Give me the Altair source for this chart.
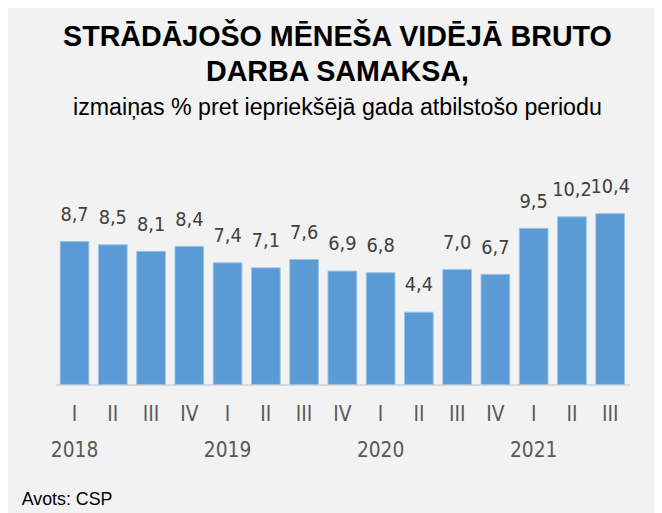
import altair as alt
import pandas as pd

years = ["2018", "2018", "2018", "2018", "2019", "2019", "2019", "2019",
         "2020", "2020", "2020", "2020", "2021", "2021", "2021"]
quarters = ["I", "II", "III", "IV", "I", "II", "III", "IV",
            "I", "II", "III", "IV", "I", "II", "III"]
values = [8.7, 8.5, 8.1, 8.4, 7.4, 7.1, 7.6, 6.9, 6.8, 4.4, 7.0, 6.7, 9.5, 10.2, 10.4]

df = pd.DataFrame({
    "key": [f"{y} {q}" for y, q in zip(years, quarters)],
    "year": years,
    "quarter": quarters,
    "value": values,
})
order = list(df["key"])

NARROW = "Liberation Sans Narrow, Arial Narrow, Noto Sans Condensed, DejaVu Sans Condensed, Roboto Condensed, Roboto, sans-serif"
ARIAL = "Liberation Sans, Arial, sans-serif"

x_enc = alt.X(
    "key:N",
    sort=order,
    scale=alt.Scale(paddingInner=0.25, paddingOuter=0.125),
    axis=alt.Axis(
        title=None,
        labelAngle=0,
        labelExpr="split(datum.label, ' ')[1] == 'I' ? [split(datum.label, ' ')[1], split(datum.label, ' ')[0]] : [split(datum.label, ' ')[1], '']",
        labelFont=NARROW,
        labelFontSize=21,
        labelColor="#595959",
        labelLineHeight=37,
        labelPadding=19,
        labelBaseline="top",
        ticks=False,
        domainColor="#d9d9d9",
        domainWidth=2,
        grid=False,
    ),
)
y_enc = alt.Y("value:Q", scale=alt.Scale(domain=[0, 11], nice=False), axis=None)

base = alt.Chart(df)

bars = base.mark_bar(color="#5b9bd5", stroke="#9dc3e6", strokeWidth=1).encode(x=x_enc, y=y_enc)

labels = base.transform_calculate(
    lbl="replace(format(datum.value, '.1f'), '.', ',')"
).mark_text(
    font=NARROW, fontSize=20, color="#404040", baseline="alphabetic", dy=-21
).encode(x=x_enc, y=y_enc, text="lbl:N")

source = alt.Chart(pd.DataFrame({"t": ["Avots: CSP"]})).mark_text(
    font=ARIAL, fontSize=18, color="#000000", align="left", baseline="alphabetic"
).encode(x=alt.value(-34), y=alt.value(305), text="t:N")

chart = alt.layer(bars, labels, source).properties(
    width=581,
    height=183,
    autosize=alt.AutoSizeParams(type="none"),
    padding={"left": 48, "right": 25, "top": 195, "bottom": 127},
    background="#f2f2f2",
    title=alt.TitleParams(
        text=["STRĀDĀJOŠO MĒNEŠA VIDĒJĀ BRUTO", "DARBA SAMAKSA,"],
        subtitle="izmaiņas % pret iepriekšējā gada atbilstošo periodu",
        font=ARIAL,
        fontSize=29,
        fontWeight="bold",
        color="#000000",
        lineHeight=35,
        subtitleFont=ARIAL,
        subtitleFontSize=23.5,
        subtitleColor="#000000",
        subtitlePadding=10,
        anchor="middle",
        frame="group",
        dx=-5,
        offset=58,
    ),
).configure_view(stroke=None)

chart.save("out.html", embed_options={"renderer": "svg", "actions": False})
